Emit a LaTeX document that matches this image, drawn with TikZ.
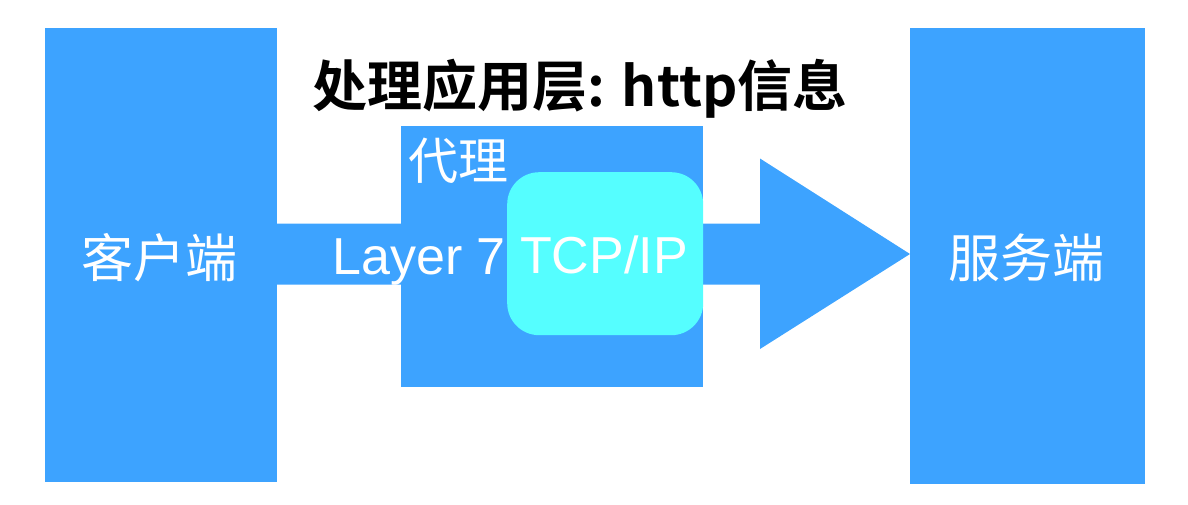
\documentclass[tikz,border=0pt]{standalone}
\usepackage{fontspec}
\newfontfamily\cjk{Noto Sans CJK SC}
\newfontfamily\cjkbold{Noto Sans CJK SC Bold}
\setmainfont{Liberation Sans}
\definecolor{boxblue}{HTML}{3DA3FF}
\definecolor{tcpcyan}{HTML}{55FEFF}
\begin{document}
\begin{tikzpicture}[x=1pt,y=-1pt,
  blk/.style={fill=boxblue,draw=none,inner sep=0pt,outer sep=0pt,anchor=north west},
  wtext/.style={text=white,inner sep=0pt},
  arrowshape/.style={fill=boxblue,draw=none}]
\useasboundingbox (0,0) rectangle (1188,504);
% main boxes
\node[blk,minimum width=232pt,minimum height=454pt] (client) at (45,28) {};
\node[blk,minimum width=235pt,minimum height=456pt] (server) at (910,28) {};
% arrow
\coordinate (a1) at (277,223.5);
\coordinate (a2) at (760,223.5);
\coordinate (a3) at (760,158.5);
\coordinate (tip) at (910,254);
\coordinate (a5) at (760,349);
\coordinate (a6) at (760,284.5);
\coordinate (a7) at (277,284.5);
\fill[arrowshape] (a1) -- (a2) -- (a3) -- (tip) -- (a5) -- (a6) -- (a7) -- cycle;
% proxy
\node[blk,minimum width=302pt,minimum height=261pt] (proxy) at (401,126) {};
\node[fill=tcpcyan,draw=none,rounded corners=32pt,minimum width=196pt,minimum height=163pt,inner sep=0pt,anchor=north west] (tcp) at (507,172) {};
% texts
\node[wtext,font=\cjk\fontsize{52}{56}\selectfont] (clientlabel) at (159,258) {客户端};
\node[wtext,font=\cjk\fontsize{52}{56}\selectfont] (serverlabel) at (1026,258) {服务端};
\node[wtext,font=\cjk\fontsize{50}{54}\selectfont,anchor=west] (proxylabel) at (408,161) {代理};
\node[wtext,font=\fontsize{52}{56}\selectfont,anchor=base] (layer) at (419,274) {Layer 7};
\node[wtext,font=\fontsize{52}{56}\selectfont,anchor=base] (tcplabel) at (604,273) {TCP/IP};
\node[inner sep=0pt,font=\cjkbold\fontsize{55}{60}\selectfont] (title) at (580,89) {处理应用层: http信息};
\end{tikzpicture}
\end{document}
